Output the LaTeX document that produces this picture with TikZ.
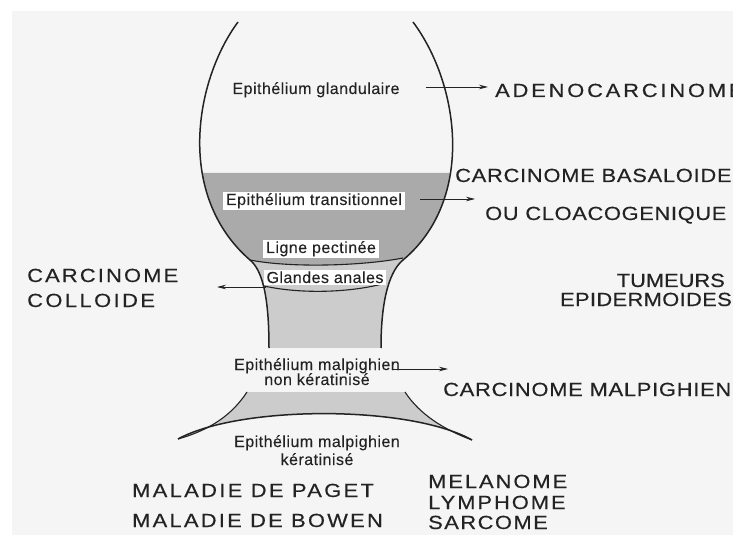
\documentclass[tikz,border=0pt]{standalone}
\usepackage{fontspec}
\setmainfont{Liberation Sans}
\newfontfamily\capsfont[FakeStretch=1.15,FakeBold=0.4]{Liberation Sans}
\usetikzlibrary{arrows.meta}
\definecolor{paper}{RGB}{245,245,245}
\definecolor{deepfill}{RGB}{170,170,170}
\definecolor{softfill}{RGB}{204,204,204}
\definecolor{ink}{RGB}{35,35,35}

\begin{document}
\begin{tikzpicture}[x=1pt,y=-1pt,
  smalltext/.style={font={\fontsize{16}{18}\selectfont\addfontfeatures{LetterSpace=3,FakeBold=0.15}}, inner sep=0pt, text=ink},
  labelbox/.style={smalltext, fill=white, inner xsep=3pt, inner ysep=1.5pt},
  capstext/.style={font={\capsfont\fontsize{19}{21}\selectfont\addfontfeatures{LetterSpace=#1}}, inner sep=0pt, text=ink},
  wall/.style={line width=1.5pt, draw=ink},
  seam/.style={line width=1.1pt, draw=ink},
  arr/.style={line width=0.8pt, draw=ink, -{Stealth[length=9pt,width=4.5pt]}},
]
% sheet
\fill[white] (0,0) rectangle (733,537);
\fill[paper] (12,11) rectangle (733,535);
\useasboundingbox (0,0) rectangle (733,537);

% anal canal: upper ampulla and neck
\def\vessel{(238,22) .. controls (195,80) and (175,195) .. (250,260)
  .. controls (262,270) and (269,295) .. (269,348) -- (381,348)
  .. controls (381,295) and (391,270) .. (403,260)
  .. controls (475,200) and (460,85) .. (413,22) -- cycle}
\begin{scope}
  \clip \vessel;
  \fill[softfill] (150,173) rectangle (500,348);
  \fill[deepfill] (150,173) -- (500,173) -- (500,257) -- (403,258)
    .. controls (362,266) and (290,268) .. (250,260) -- (150,260) -- cycle;
\end{scope}
\draw[wall] (238,22) .. controls (195,80) and (175,195) .. (250,260)
  .. controls (262,270) and (269,295) .. (269,348);
\draw[wall] (413,22) .. controls (460,85) and (475,200) .. (403,260)
  .. controls (391,270) and (381,295) .. (381,348);
\draw[seam] (250,260) .. controls (290,268) and (362,266) .. (403,258);
\draw[seam] (264,286) .. controls (300,294) and (350,293) .. (386,283);

% anal margin
\fill[softfill] (247,392) -- (405,392) .. controls (420,415) and (445,430) .. (472,440)
  .. controls (410,405) and (240,405) .. (178,439)
  .. controls (210,430) and (232,415) .. (247,392) -- cycle;
\draw[seam] (247,392) .. controls (232,415) and (210,430) .. (178,439);
\draw[seam] (405,392) .. controls (420,415) and (445,430) .. (472,440);
\draw[wall] (178,439) .. controls (240,405) and (410,405) .. (472,440);

% epithelium labels
\node[smalltext, anchor=base] (glandulaire) at (316,94) {Epithélium glandulaire};
\node[labelbox, anchor=base] (transit) at (314,205) {Epithélium transitionnel};
\node[labelbox, anchor=base] (pectinee) at (321,253) {Ligne pectinée};
\node[labelbox, anchor=base] (glandes) at (325,283) {Glandes anales};
\node[smalltext, anchor=base] (malpA) at (317,370) {Epithélium malpighien};
\node[smalltext, anchor=base] (malpB) at (317,385) {non kératinisé};
\node[smalltext, anchor=base] (kerA) at (317,447) {Epithélium malpighien};
\node[smalltext, anchor=base] (kerB) at (317,465) {kératinisé};

% tumour labels
\node[capstext=15, anchor=base west] (adeno) at (495,97) {ADENOCARCINOME};
\node[capstext=4, anchor=base west] (basal) at (455,182) {CARCINOME BASALOIDE,};
\node[capstext=3.5, anchor=base west] (cloaco) at (485,220) {OU CLOACOGENIQUE};
\node[capstext=11.5, anchor=base west] (colA) at (27,282) {CARCINOME};
\node[capstext=13, anchor=base west] (colB) at (27,307) {COLLOIDE};
\node[capstext=0, anchor=base east] (tumA) at (725,287) {TUMEURS};
\node[capstext=2, anchor=base east] (tumB) at (732,306) {EPIDERMOIDES};
\node[capstext=4, anchor=base west] (malig) at (443,396) {CARCINOME MALPIGHIEN};
\node[capstext=12.5, anchor=base west] (paget) at (132,497) {MALADIE DE PAGET};
\node[capstext=12, anchor=base west] (bowen) at (132,527) {MALADIE DE BOWEN};
\node[capstext=10.5, anchor=base west] (mela) at (428,488) {MELANOME};
\node[capstext=10.5, anchor=base west] (lymph) at (428,509) {LYMPHOME};
\node[capstext=8, anchor=base west] (sarc) at (428,529) {SARCOME};

% arrows
\coordinate (colloidEnd) at (217,287);
\draw[arr] ([shift={(26pt,7pt)}]glandulaire.base east) -- ([shift={(-7pt,10pt)}]adeno.base west);
\draw[arr] ([shift={(15pt,6pt)}]transit.base east) -- ([shift={(-10pt,21pt)}]cloaco.base west);
\draw[arr] ([shift={(3pt,-4pt)}]glandes.base west) -- (colloidEnd);
\draw[arr] ([shift={(-7pt,1pt)}]malpA.base east) -- ([shift={(5pt,27pt)}]malig.base west);
\end{tikzpicture}
\end{document}
